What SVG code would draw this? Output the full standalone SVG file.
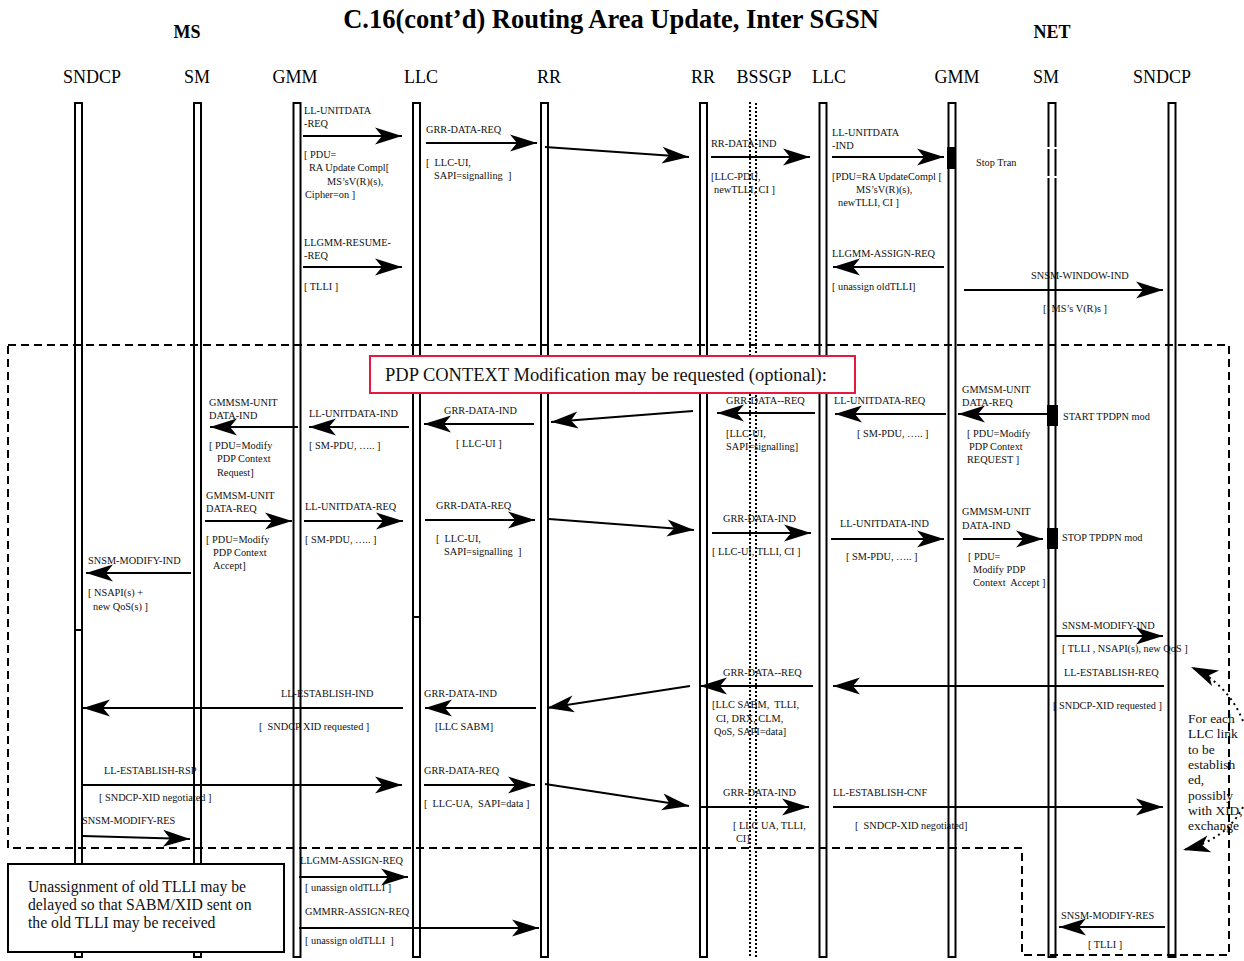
<svg xmlns="http://www.w3.org/2000/svg" width="1244" height="961" viewBox="0 0 1244 961">
<style>
text{font-family:"Liberation Serif","Times New Roman",serif;fill:#111;white-space:pre}
.s{font-size:10.3px}
.h{font-size:18px;fill:#000}
.hb{font-size:18px;font-weight:bold;fill:#000}
.ti{font-size:26.5px;font-weight:bold;fill:#000}
.n{font-size:13.5px}
.nb{font-size:15.7px}
.pdp{font-size:18.5px}
.bar{fill:none;stroke:#000;stroke-width:2}
.bss{stroke:#000;stroke-width:2;stroke-dasharray:2 2;fill:none}
.act{fill:#000}
#connectors line,#connectors path{stroke:#000;stroke-width:2;fill:none;marker-end:url(#ah)}
#connectors .dot{stroke-dasharray:2 4}
.box{fill:none;stroke:#000;stroke-width:2;stroke-dasharray:8 5}
</style>
<defs>
<marker id="ah" viewBox="-28 -9 29 18" refX="0" refY="0" markerWidth="29" markerHeight="18" markerUnits="userSpaceOnUse" orient="auto" overflow="visible">
<path d="M0,0 L-27,-8.5 L-20,0 L-27,8.5 Z" fill="#000"/>
</marker>
</defs>
<rect width="1244" height="961" fill="#fff"/>
<g id="titles">
<text class="ti" x="611" y="28" text-anchor="middle">C.16(cont’d) Routing Area Update, Inter SGSN</text>
<text class="hb" x="187" y="38" text-anchor="middle">MS</text>
<text class="hb" x="1052" y="38" text-anchor="middle">NET</text>
</g>
<g id="message-labels">
<text class="s" x="304" y="114">LL-UNITDATA</text>
<text class="s" x="304" y="127">-REQ</text>
<text class="s" x="304" y="158">[ PDU=</text>
<text class="s" x="309" y="171">RA Update Compl[</text>
<text class="s" x="327" y="185">MS’sV(R)(s),</text>
<text class="s" x="305" y="198">Cipher=on ]</text>
<text class="s" x="426" y="133">GRR-DATA-REQ</text>
<text class="s" x="426" y="166">[  LLC-UI,</text>
<text class="s" x="434" y="179">SAPI=signalling  ]</text>
<text class="s" x="711" y="147">RR-DATA-IND</text>
<text class="s" x="711" y="180">[LLC-PDU,</text>
<text class="s" x="714" y="193">newTLLI, CI ]</text>
<text class="s" x="832" y="136">LL-UNITDATA</text>
<text class="s" x="832" y="149">-IND</text>
<text class="s" x="832" y="180">[PDU=RA UpdateCompl [</text>
<text class="s" x="856" y="193">MS’sV(R)(s),</text>
<text class="s" x="838" y="206">newTLLI, CI ]</text>
<text class="s" x="976" y="166">Stop Tran</text>
<text class="s" x="304" y="246">LLGMM-RESUME-</text>
<text class="s" x="304" y="259">-REQ</text>
<text class="s" x="304" y="290">[ TLLI ]</text>
<text class="s" x="832" y="257">LLGMM-ASSIGN-REQ</text>
<text class="s" x="832" y="290">[ unassign oldTLLI]</text>
<text class="s" x="1031" y="279">SNSM-WINDOW-IND</text>
<text class="s" x="1043" y="312">[  MS’s V(R)s ]</text>
<text class="s" x="726" y="404">GRR-DATA--REQ</text>
<text class="s" x="726" y="437">[LLC-UI,</text>
<text class="s" x="726" y="450">SAPI=signalling]</text>
<text class="s" x="444" y="414">GRR-DATA-IND</text>
<text class="s" x="456" y="447">[ LLC-UI ]</text>
<text class="s" x="309" y="417">LL-UNITDATA-IND</text>
<text class="s" x="309" y="449">[ SM-PDU, ….. ]</text>
<text class="s" x="209" y="406">GMMSM-UNIT</text>
<text class="s" x="209" y="419">DATA-IND</text>
<text class="s" x="209" y="449">[ PDU=Modify</text>
<text class="s" x="217" y="462">PDP Context</text>
<text class="s" x="217" y="476">Request]</text>
<text class="s" x="206" y="499">GMMSM-UNIT</text>
<text class="s" x="206" y="512">DATA-REQ</text>
<text class="s" x="206" y="543">[ PDU=Modify</text>
<text class="s" x="213" y="556">PDP Context</text>
<text class="s" x="213" y="569">Accept]</text>
<text class="s" x="305" y="510">LL-UNITDATA-REQ</text>
<text class="s" x="305" y="543">[ SM-PDU, ….. ]</text>
<text class="s" x="436" y="509">GRR-DATA-REQ</text>
<text class="s" x="436" y="542">[  LLC-UI,</text>
<text class="s" x="444" y="555">SAPI=signalling  ]</text>
<text class="s" x="723" y="522">GRR-DATA-IND</text>
<text class="s" x="712" y="555">[ LLC-UI, TLLI, CI ]</text>
<text class="s" x="840" y="527">LL-UNITDATA-IND</text>
<text class="s" x="846" y="560">[ SM-PDU, ….. ]</text>
<text class="s" x="962" y="515">GMMSM-UNIT</text>
<text class="s" x="962" y="529">DATA-IND</text>
<text class="s" x="968" y="560">[ PDU=</text>
<text class="s" x="973" y="573">Modify PDP</text>
<text class="s" x="973" y="586">Context  Accept ]</text>
<text class="s" x="1062" y="541">STOP TPDPN mod</text>
<text class="s" x="962" y="393">GMMSM-UNIT</text>
<text class="s" x="962" y="406">DATA-REQ</text>
<text class="s" x="967" y="437">[ PDU=Modify</text>
<text class="s" x="969" y="450">PDP Context</text>
<text class="s" x="967" y="463">REQUEST ]</text>
<text class="s" x="1063" y="420">START TPDPN mod</text>
<text class="s" x="834" y="404">LL-UNITDATA-REQ</text>
<text class="s" x="857" y="437">[ SM-PDU, ….. ]</text>
<text class="s" x="88" y="564">SNSM-MODIFY-IND</text>
<text class="s" x="88" y="596">[ NSAPI(s) +</text>
<text class="s" x="93" y="610">new QoS(s) ]</text>
<text class="s" x="1062" y="629">SNSM-MODIFY-IND</text>
<text class="s" x="1062" y="652">[ TLLI , NSAPI(s), new QoS ]</text>
<text class="s" x="1064" y="676">LL-ESTABLISH-REQ</text>
<text class="s" x="1053" y="709">[ SNDCP-XID requested ]</text>
<text class="s" x="723" y="676">GRR-DATA--REQ</text>
<text class="s" x="712" y="708">[LLC SABM,  TLLI,</text>
<text class="s" x="716" y="722">CI, DRX, CLM,</text>
<text class="s" x="714" y="735">QoS, SAPI=data]</text>
<text class="s" x="424" y="697">GRR-DATA-IND</text>
<text class="s" x="435" y="730">[LLC SABM]</text>
<text class="s" x="281" y="697">LL-ESTABLISH-IND</text>
<text class="s" x="259" y="730">[  SNDCP XID requested ]</text>
<text class="s" x="104" y="774">LL-ESTABLISH-RSP</text>
<text class="s" x="99" y="801">[ SNDCP-XID negotiated ]</text>
<text class="s" x="424" y="774">GRR-DATA-REQ</text>
<text class="s" x="424" y="807">[  LLC-UA,  SAPI=data ]</text>
<text class="s" x="723" y="796">GRR-DATA-IND</text>
<text class="s" x="733" y="829">[ LLC UA, TLLI,</text>
<text class="s" x="736" y="842">CI]</text>
<text class="s" x="833" y="796">LL-ESTABLISH-CNF</text>
<text class="s" x="855" y="829">[  SNDCP-XID negotiated]</text>
<text class="s" x="82" y="824">SNSM-MODIFY-RES</text>
<text class="s" x="300" y="864">LLGMM-ASSIGN-REQ</text>
<text class="s" x="305" y="891">[ unassign oldTLLI ]</text>
<text class="s" x="305" y="915">GMMRR-ASSIGN-REQ</text>
<text class="s" x="305" y="944">[ unassign oldTLLI  ]</text>
<text class="s" x="1061" y="919">SNSM-MODIFY-RES</text>
<text class="s" x="1088" y="948">[ TLLI ]</text>
</g>
<g id="note-foreach">
<text class="n" x="1188" y="723">For each</text>
<text class="n" x="1188" y="738">LLC link</text>
<text class="n" x="1188" y="754">to be</text>
<text class="n" x="1188" y="769">establish</text>
<text class="n" x="1188" y="784">ed,</text>
<text class="n" x="1188" y="800">possibly</text>
<text class="n" x="1188" y="815">with XID,</text>
<text class="n" x="1188" y="830">exchange</text>
</g>
<g id="ms-sndcp"><text class="h" x="92" y="83" text-anchor="middle">SNDCP</text><rect class="bar" x="75" y="103" width="7" height="854"/><line x1="74" y1="630" x2="83" y2="630" stroke="#000" stroke-width="2"/></g>
<g id="ms-sm"><text class="h" x="197" y="83" text-anchor="middle">SM</text><rect class="bar" x="194" y="103" width="7" height="854"/></g>
<g id="ms-gmm"><text class="h" x="295" y="83" text-anchor="middle">GMM</text><rect class="bar" x="293.5" y="103" width="7" height="854"/></g>
<g id="ms-llc"><text class="h" x="421" y="83" text-anchor="middle">LLC</text><rect class="bar" x="413" y="103" width="7" height="854"/><line x1="412" y1="617" x2="421" y2="617" stroke="#000" stroke-width="2"/></g>
<g id="ms-rr"><text class="h" x="549" y="83" text-anchor="middle">RR</text><rect class="bar" x="541" y="103" width="7" height="854"/></g>
<g id="net-rr"><text class="h" x="703" y="83" text-anchor="middle">RR</text><rect class="bar" x="700" y="103" width="7" height="854"/></g>
<g id="net-bssgp"><text class="h" x="764" y="83" text-anchor="middle">BSSGP</text><line class="bss" x1="750" y1="102" x2="750" y2="958"/><line class="bss" x1="756" y1="103" x2="756" y2="958"/></g>
<g id="net-llc"><text class="h" x="829" y="83" text-anchor="middle">LLC</text><rect class="bar" x="819.5" y="103" width="7" height="854"/></g>
<g id="net-gmm"><text class="h" x="957" y="83" text-anchor="middle">GMM</text><rect class="bar" x="948.5" y="103" width="7" height="854"/><rect class="act" x="947" y="147" width="9" height="22"/></g>
<g id="net-sm"><text class="h" x="1046" y="83" text-anchor="middle">SM</text><rect class="bar" x="1048.5" y="103" width="7" height="854"/><rect x="1046" y="147" width="12" height="2" fill="#fff"/><rect x="1046" y="176" width="12" height="2" fill="#fff"/><rect class="act" x="1047" y="405" width="11" height="21"/><rect class="act" x="1047" y="528" width="11" height="21"/></g>
<g id="net-sndcp"><text class="h" x="1162" y="83" text-anchor="middle">SNDCP</text><rect class="bar" x="1168.5" y="103" width="7" height="854"/></g>
<g id="connectors">
<line x1="303" y1="136" x2="402" y2="136"/>
<line x1="426" y1="143" x2="537" y2="143"/>
<line x1="545" y1="147" x2="689" y2="157"/>
<line x1="711" y1="157" x2="810" y2="157"/>
<line x1="832" y1="157" x2="944" y2="157"/>
<line x1="303" y1="267" x2="402" y2="267"/>
<line x1="944" y1="267" x2="833" y2="267"/>
<line x1="964" y1="290" x2="1163" y2="290"/>
<line x1="693" y1="411" x2="551" y2="422"/>
<line x1="815" y1="413" x2="717" y2="413"/>
<line x1="534" y1="424" x2="424" y2="424"/>
<line x1="409" y1="427" x2="309" y2="427"/>
<line x1="298" y1="427" x2="210" y2="427"/>
<line x1="205" y1="521" x2="292" y2="521"/>
<line x1="304" y1="521" x2="403" y2="521"/>
<line x1="425" y1="520" x2="535" y2="520"/>
<line x1="549" y1="519" x2="694" y2="530"/>
<line x1="712" y1="533" x2="811" y2="533"/>
<line x1="831" y1="539" x2="944" y2="539"/>
<line x1="963" y1="539" x2="1043" y2="539"/>
<line x1="1047" y1="414" x2="958" y2="414"/>
<line x1="946" y1="414" x2="835" y2="414"/>
<line x1="191" y1="573" x2="86" y2="573"/>
<line x1="1056" y1="636" x2="1163" y2="636"/>
<line x1="1164" y1="686" x2="833" y2="686"/>
<line x1="813" y1="686" x2="700" y2="686"/>
<line x1="690" y1="686" x2="547" y2="708"/>
<line x1="536" y1="708" x2="425" y2="708"/>
<line x1="403" y1="708" x2="83" y2="708"/>
<line x1="83" y1="785" x2="402" y2="785"/>
<line x1="424" y1="785" x2="535" y2="785"/>
<line x1="545" y1="784" x2="689" y2="806"/>
<line x1="700" y1="807" x2="809" y2="807"/>
<line x1="833" y1="807" x2="1163" y2="807"/>
<line x1="83" y1="836" x2="190" y2="839"/>
<line x1="299" y1="877" x2="408" y2="877"/>
<line x1="299" y1="928" x2="539" y2="928"/>
<line x1="1165" y1="927" x2="1059" y2="927"/>
<path class="dot" d="M1243,721 Q1228,684 1191,667"/>
<path class="dot" d="M1243,807 Q1226,840 1183,850"/>
</g>
<g id="optional-region">
<path class="box" d="M8,345 H1229 V955 H1022 V848 H8 Z"/>
</g>
<g id="pdp-context-note">
<rect x="370" y="356" width="485" height="37" fill="#fff" stroke="#e8173e" stroke-width="2"/>
<text class="pdp" x="385" y="381">PDP CONTEXT Modification may be requested (optional):</text>
</g>
<g id="unassign-note">
<rect x="8" y="864" width="276" height="88" fill="#fff" stroke="#000" stroke-width="2"/>
<text class="nb" x="28" y="892">Unassignment of old TLLI may be</text>
<text class="nb" x="28" y="910">delayed so that SABM/XID sent on</text>
<text class="nb" x="28" y="928">the old TLLI may be received</text>
</g>
</svg>
